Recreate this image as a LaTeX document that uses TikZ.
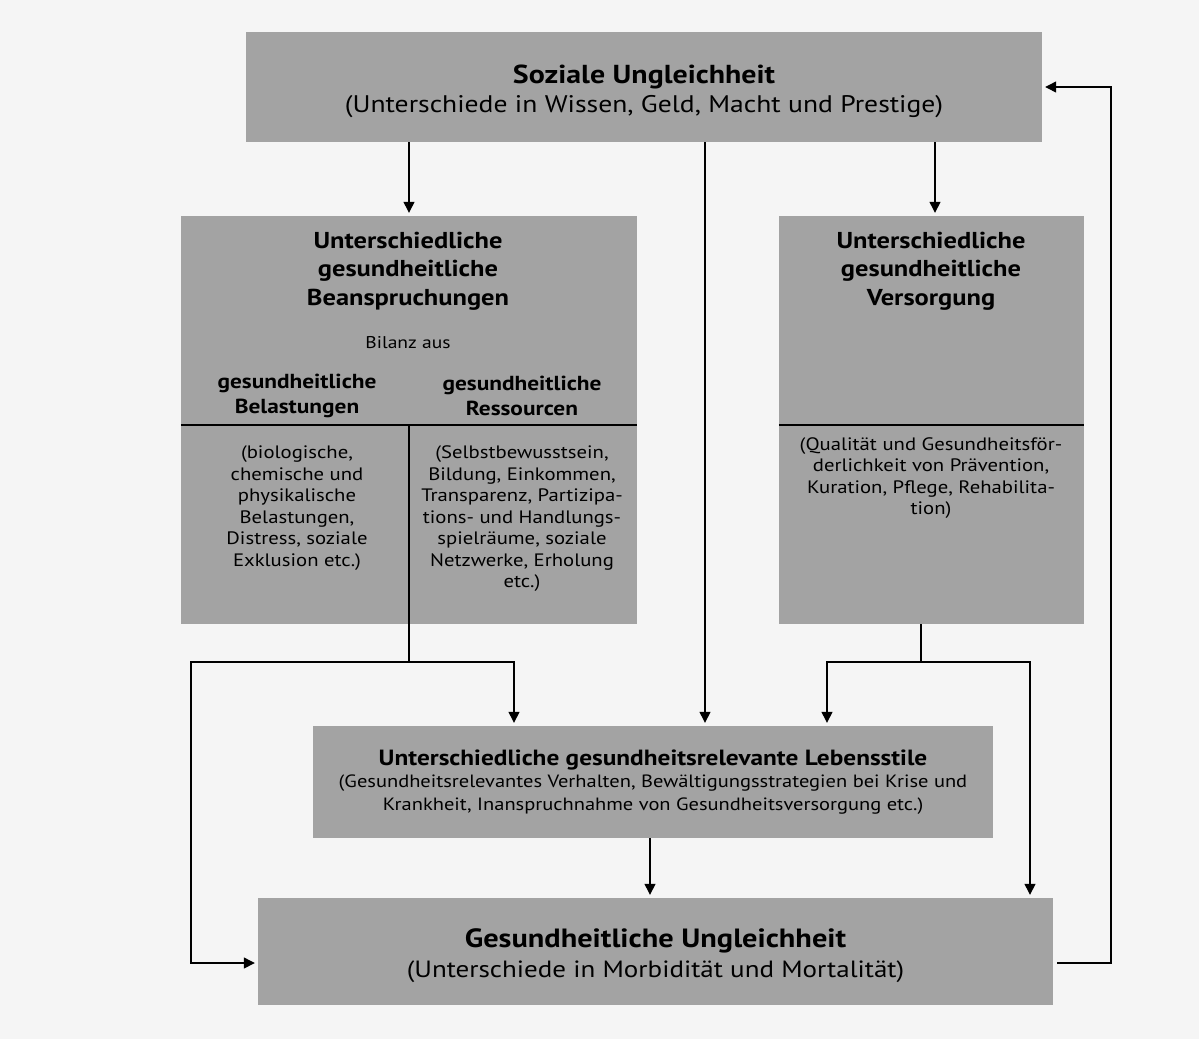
\documentclass[tikz,border=0pt]{standalone}
\usepackage{fontspec}
\setmainfont{PT Sans}[FakeStretch=1.15]
\usetikzlibrary{arrows.meta}

\tikzset{
  feld/.style={fill=black!36, draw=none, inner sep=0pt, align=center},
  pfeil/.style={-{Triangle[length=11pt,width=11pt]}, line width=1.3pt, shorten >=3pt},
  linie/.style={line width=1.3pt},
  kopf/.style={font=\bfseries\fontsize{23}{28.5}\selectfont, align=center},
  unterkopf/.style={font=\bfseries\fontsize{20.3}{25}\selectfont, align=center},
  klein/.style={font=\fontsize{18}{21.5}\selectfont, align=center}
}

\begin{document}
\begin{tikzpicture}[x=1pt,y=-1pt]
\useasboundingbox[fill=black!4] (0,0) rectangle (1199,1039);

% Kaesten
\node[feld, minimum width=796pt, minimum height=110pt] (soz) at (644,87) {};
\node[feld, minimum width=456pt, minimum height=408pt] (bean) at (409,420) {};
\node[feld, minimum width=305pt, minimum height=408pt] (vers) at (931.5,420) {};
\node[feld, minimum width=680pt, minimum height=112pt] (leb) at (653,782) {};
\node[feld, minimum width=795pt, minimum height=107pt] (ung) at (655.5,951.5) {};

% Texte in den breiten Kaesten
\node[font=\fontsize{24}{29}\selectfont, align=center] (sozt) at (644,91)
  {{\bfseries\fontsize{26}{29}\selectfont Soziale Ungleichheit}\\(Unterschiede in Wissen, Geld, Macht und Prestige)};
\node[font=\fontsize{17.8}{22.5}\selectfont, align=center] (lebt) at (653,782)
  {{\bfseries\fontsize{22}{22.5}\selectfont Unterschiedliche gesundheitsrelevante Lebensstile}\\
   (Gesundheitsrelevantes Verhalten, Bewältigungsstrategien bei Krise und\\
   Krankheit, Inanspruchnahme von Gesundheitsversorgung etc.)};
\node[font=\fontsize{23.5}{30}\selectfont, align=center] (ungt) at (655.5,956)
  {{\bfseries\fontsize{26.4}{30}\selectfont Gesundheitliche Ungleichheit}\\(Unterschiede in Morbidität und Mortalität)};

% Texte im linken Kasten
\node[kopf] (beankopf) at (408,271) {Unterschiedliche\\gesundheitliche\\Beanspruchungen};
\node[font=\fontsize{17}{19}\selectfont] (bilanz) at (408,343) {Bilanz aus};
\node[unterkopf] (belkopf) at (297,396) {gesundheitliche\\Belastungen};
\node[unterkopf] (reskopf) at (522,396) {gesundheitliche\\Ressourcen};
\node[klein] (beltext) at (297,508) {(biologische,\\chemische und\\physikalische\\Belastungen,\\Distress, soziale\\Exklusion etc.)};
\node[klein] (restext) at (522,519) {(Selbstbewusstsein,\\Bildung, Einkommen,\\Transparenz, Partizipa-\\tions- und Handlungs-\\spielräume, soziale\\Netzwerke, Erholung\\etc.)};

% Texte im rechten Kasten
\node[kopf] (verskopf) at (931,271) {Unterschiedliche\\gesundheitliche\\Versorgung};
\node[klein] (verstext) at (931,478) {(Qualität und Gesundheitsför-\\derlichkeit von Prävention,\\Kuration, Pflege, Rehabilita-\\tion)};

% Hilfspunkte
\coordinate (lt) at (0,425);
\coordinate (bj) at (409,662);
\coordinate (rj) at (921,662);
\coordinate (vx) at (935,0);
\coordinate (mx) at (705,0);
\coordinate (la) at (514,0);
\coordinate (ll) at (191,963);
\coordinate (ra) at (827,0);
\coordinate (rb) at (1030,0);
\coordinate (ux) at (650,0);
\coordinate (lp) at (1111,963);

% Trennlinien
\draw[linie] (bean.west |- lt) -- (bean.east |- lt);
\draw[linie] (bean.center |- lt) -- (bean.south);
\draw[linie] (vers.west |- lt) -- (vers.east |- lt);

% Pfeile
\draw[pfeil] (bean.north |- soz.south) -- (bean.north);
\draw[pfeil] (soz.south -| vx) -- (vers.north -| vx);
\draw[pfeil] (soz.south -| mx) -- (leb.north -| mx);
\draw[linie] (bean.south) -- (bj);
\draw[pfeil] (bj) -| (leb.north -| la);
\draw[pfeil] (bj) -| (ll) -- (ung.west |- ll);
\draw[linie] (vers.south -| rj) -- (rj);
\draw[pfeil] (rj) -| (leb.north -| ra);
\draw[pfeil] (rj) -| (ung.north -| rb);
\draw[pfeil] (leb.south -| ux) -- (ung.north -| ux);
\draw[pfeil] ([xshift=4pt]ung.east |- lp) -| (lp |- soz.east) -- (soz.east);
\end{tikzpicture}
\end{document}
